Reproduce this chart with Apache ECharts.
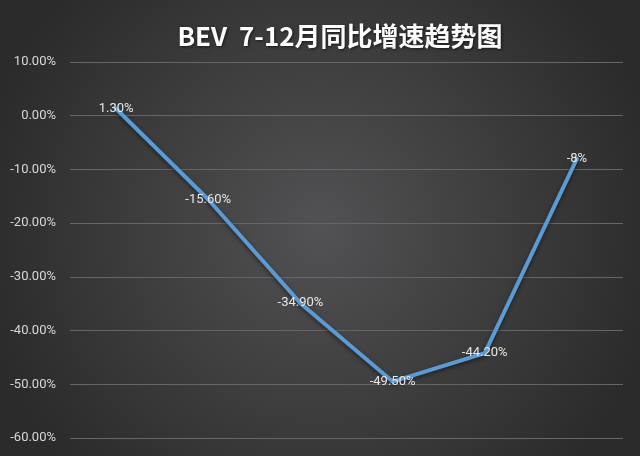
<!DOCTYPE html>
<html><head><meta charset="utf-8">
<script src="https://cdn.jsdelivr.net/npm/echarts@6/dist/echarts.min.js"></script>
<style>html,body{margin:0;padding:0;background:#333;}#c{width:640px;height:456px;}</style>
</head><body><div id="c"></div>
<script>
var categories = ['7月','8月','9月','10月','11月','12月'];
var values = [1.30, -15.60, -34.90, -49.50, -44.20, -8];
var valueLabels = ['1.30%','-15.60%','-34.90%','-49.50%','-44.20%','-8%'];
var chart = echarts.init(document.getElementById('c'));
chart.setOption({
  backgroundColor: {
    type: 'radial', x: 0.5, y: 0.5, r: 0.75,
    colorStops: [{offset: 0, color: '#525254'}, {offset: 1, color: '#2b2b2b'}]
  },
  title: {
    text: 'BEV  7-12月同比增速趋势图',
    left: 335, top: 18, textAlign: 'center',
    textStyle: {color: '#ffffff', fontSize: 26, fontWeight: 'bold', fontFamily: 'Noto Sans CJK SC',
      textShadowColor: 'rgba(0,0,0,0.6)', textShadowBlur: 3, textShadowOffsetX: 1, textShadowOffsetY: 1}
  },
  grid: {left: 70, right: 17, top: 62, bottom: 18},
  xAxis: {
    type: 'category', data: categories, boundaryGap: true,
    axisLine: {show: false}, axisTick: {show: false}, axisLabel: {show: false}
  },
  yAxis: {
    type: 'value', min: -60, max: 10, interval: 10,
    axisLine: {show: false}, axisTick: {show: false},
    splitLine: {lineStyle: {color: '#666666', width: 1}},
    axisLabel: {color: '#d9d9d9', fontSize: 13, fontFamily: 'Liberation Sans Narrow, Roboto', margin: 14,
      formatter: function (v) { return v.toFixed(2) + '%'; }}
  },
  series: [{
    type: 'line', data: values, symbol: 'circle', symbolSize: 4, showSymbol: true,
    itemStyle: {color: '#5b9bd5'},
    lineStyle: {color: '#5b9bd5', width: 4, shadowColor: 'rgba(0,0,0,0.5)', shadowBlur: 4, shadowOffsetY: 2},
    label: {show: true, position: 'inside', color: '#e8e8e8', fontSize: 13, fontFamily: 'Liberation Sans Narrow, Roboto',
      formatter: function (p) { return valueLabels[p.dataIndex]; }},
    z: 3
  }]
});
</script></body></html>
